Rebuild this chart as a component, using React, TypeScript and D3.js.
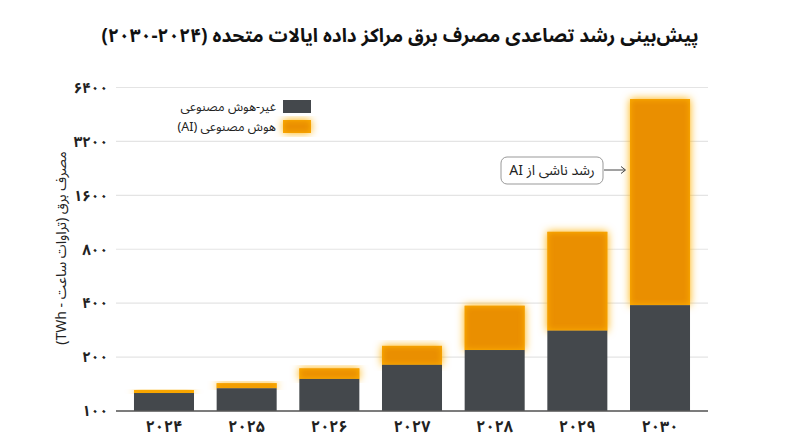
import React from "react";
import * as d3 from "d3";

const years = ["۲۰۲۴", "۲۰۲۵", "۲۰۲۶", "۲۰۲۷", "۲۰۲۸", "۲۰۲۹", "۲۰۳۰"];
const nonAI = [126, 134, 151, 181, 219, 281, 390];
const aiPart = [5, 9, 22, 50, 168, 720, 5130];
const yTicks = [100, 200, 400, 800, 1600, 3200, 6400];
const toFa = (n: number) => String(n).replace(/\d/g, (d) => "۰۱۲۳۴۵۶۷۸۹"[+d]);

const W = 800;
const H = 447;
const FONT = "'Noto Sans Arabic', 'DejaVu Sans', sans-serif";
const DARK = "#44484c";
const ORANGE = "#ea8f00";
const GLOW = "#ffb000";

export default function App() {
  const x = d3
    .scaleBand<string>()
    .domain(years)
    .range([116, 708])
    .paddingInner(0.274)
    .paddingOuter(0.2175);
  const y = d3.scaleLog().base(2).domain([100, 6400]).range([411, 87.5]);

  const rows = years.map((yr, i) => ({ year: yr, nonai: nonAI[i], ai: aiPart[i] }));
  const stack = d3.stack<any>().keys(["nonai", "ai"]).offset((series: any, order: any) => {
    for (let j = 0; j < series[0].length; j++) {
      let base = 100;
      for (const k of order) {
        const s = series[k][j];
        const v = s[1] - s[0];
        if (k === 0) {
          s[0] = base;
          s[1] = v;
          base = v;
        } else {
          s[0] = base;
          s[1] = base + v;
          base = base + v;
        }
      }
    }
  });
  const series = stack(rows);

  return (
    <svg width={W} height={H} style={{ display: "block", position: "absolute", left: 0, top: 0, background: "#fff" }}>
      <defs>
        <filter id="glow" x="-30%" y="-30%" width="160%" height="160%">
          <feGaussianBlur in="SourceAlpha" stdDeviation="4" result="b" />
          <feFlood floodColor={GLOW} floodOpacity="1" />
          <feComposite in2="b" operator="in" result="g" />
          <feMerge>
            <feMergeNode in="g" />
            <feMergeNode in="SourceGraphic" />
          </feMerge>
        </filter>
        <filter id="inner" x="0" y="0" width="100%" height="100%">
          <feGaussianBlur in="SourceAlpha" stdDeviation="3" result="b" />
          <feComponentTransfer in="b" result="inv">
            <feFuncA type="table" tableValues="1 0" />
          </feComponentTransfer>
          <feFlood floodColor={GLOW} />
          <feComposite in2="inv" operator="in" result="edge" />
          <feComposite in="edge" in2="SourceAlpha" operator="in" result="edgeIn" />
          <feMerge>
            <feMergeNode in="SourceGraphic" />
            <feMergeNode in="edgeIn" />
          </feMerge>
        </filter>
      </defs>

      <text
        x={400}
        y={42}
        textAnchor="middle"
        direction="rtl"
        fontFamily={FONT}
        fontWeight="bold"
        fontSize={19}
        fill="#111"
      >
        {"پیش‌بینی رشد تصاعدی مصرف برق مراکز داده ایالات متحده (۲۰۲۴\u200F-۲۰۳۰)"}
      </text>

      {yTicks.map((t) => (
        <g key={t}>
          <line x1={116} x2={708} y1={y(t)} y2={y(t)} stroke="#e4e4e4" strokeWidth={1.2} />
          <text
            x={108}
            y={y(t)}
            dy="0.35em"
            textAnchor="end"
            fontFamily={FONT}
            fontWeight="bold"
            fontSize={15}
            fill="#222"
          >
            {toFa(t)}
          </text>
        </g>
      ))}

      {series[1].map((d: any, i: number) => (
        <g key={"ai" + i} filter="url(#glow)">
          <rect
            x={x(years[i])}
            width={x.bandwidth()}
            y={y(d[1])}
            height={y(d[0]) - y(d[1])}
            fill={ORANGE}
            filter="url(#inner)"
          />
        </g>
      ))}
      {series[0].map((d: any, i: number) => (
        <rect
          key={"n" + i}
          x={x(years[i])}
          width={x.bandwidth()}
          y={y(d[1])}
          height={y(d[0]) - y(d[1])}
          fill={DARK}
        />
      ))}

      <line x1={116} x2={708} y1={y(100)} y2={y(100)} stroke="#555" strokeWidth={1.3} />

      {years.map((yr) => (
        <text
          key={yr}
          x={(x(yr) as number) + x.bandwidth() / 2}
          y={432}
          textAnchor="middle"
          fontFamily={FONT}
          fontWeight="bold"
          fontSize={16}
          fill="#222"
        >
          {yr}
        </text>
      ))}

      <text
        transform="translate(66,248) rotate(-90)"
        textAnchor="middle"
        direction="rtl"
        fontFamily={FONT}
        fontSize={14}
        fill="#222"
      >
        مصرف برق (تراوات ساعت - TWh)
      </text>

      <rect x={283} y={100} width={28} height={13} fill={DARK} />
      <g filter="url(#glow)">
        <rect x={283} y={120} width={28} height={13} fill={ORANGE} filter="url(#inner)" />
      </g>
      <text x={276} y={107} dy="0.35em" textAnchor="start" direction="rtl" fontFamily={FONT} fontSize={12.5} fill="#222">
        غیر-هوش مصنوعی
      </text>
      <text x={276} y={127} dy="0.35em" textAnchor="start" direction="rtl" fontFamily={FONT} fontSize={12.5} fill="#222">
        هوش مصنوعی (AI)
      </text>

      <rect x={501} y={157} width={102} height={27} rx={6} fill="#fff" stroke="#999" strokeWidth={1} />
      <text x={552} y={170.5} dy="0.35em" textAnchor="middle" direction="rtl" fontFamily={FONT} fontSize={14} fill="#222">
        رشد ناشی از AI
      </text>
      <line x1={604} x2={625} y1={170} y2={170} stroke="#444" strokeWidth={1} />
      <path d="M621,166.5 L625.5,170 L621,173.5" fill="none" stroke="#444" strokeWidth={1} />
    </svg>
  );
}
